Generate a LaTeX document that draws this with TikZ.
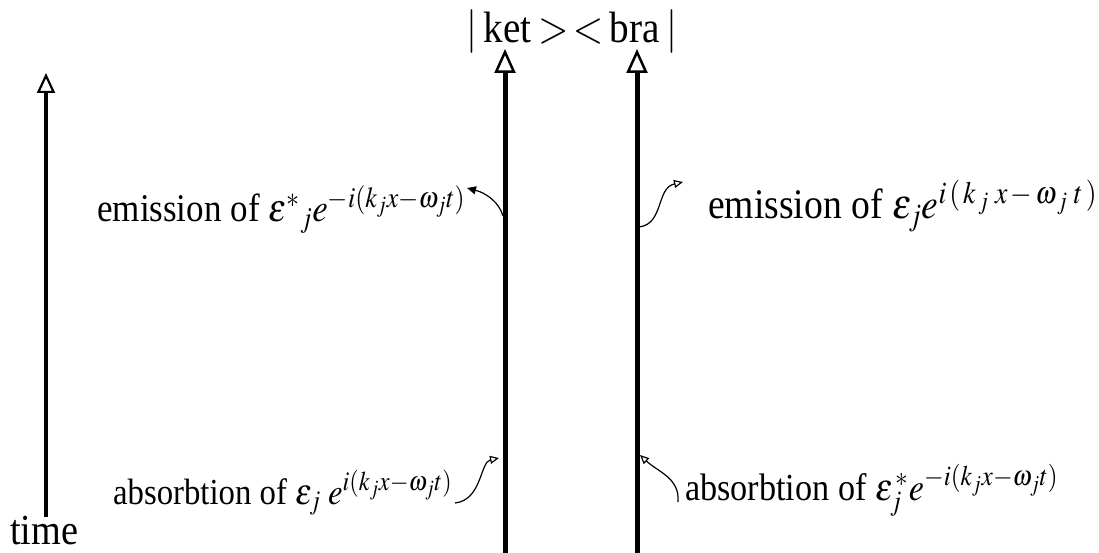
\documentclass[tikz,border=0pt]{standalone}
\usepackage{graphicx}
\usepackage{mathptmx}
\usepackage{fontspec}
\setmainfont{Liberation Serif}
\usetikzlibrary{arrows.meta}
\newcommand{\fitw}[2]{\scalebox{1}[1.12]{\resizebox{#1}{!}{#2}}}
\begin{document}
\begin{tikzpicture}[x=1pt,y=-1pt,
  worldline/.style={line width=5pt, -{Triangle[open,length=24pt,width=21pt,line width=2.5pt]}},
  timeline/.style={line width=3.5pt, -{Triangle[open,length=20pt,width=18pt,line width=2.2pt]}},
  wig/.style={line width=1.2pt, -{Triangle[open,length=9pt,width=8pt,line width=1.2pt]}},
  wigf/.style={line width=1.2pt, -{Triangle[length=9pt,width=8pt]}},
  lbl/.style={anchor=base west, inner sep=0pt, font=\fontsize{36}{40}\selectfont}]
\useasboundingbox (0,0) rectangle (1099,553);
% world lines
\coordinate (ketB) at (505,553);
\coordinate (ketT) at (505,49);
\coordinate (braB) at (637,553);
\coordinate (braT) at (637,49);
\coordinate (tB) at (46,517);
\coordinate (tT) at (46,73);
\draw[worldline] (ketB) -- (ketT);
\draw[worldline] (braB) -- (braT);
\draw[timeline] (tB) -- (tT);
% labels
\node[lbl] (top) at (466,43) {\fitw{211pt}{$|$\,ket\,$>\,<$\,bra\,$|$}};
\node[lbl] (time) at (10,544) {\fitw{68pt}{time}};
\node[lbl] (em1) at (97,222) {\fitw{368pt}{emission of $\varepsilon^{*}{}_{j}e^{-i(k_jx-\omega_jt)}$}};
\node[lbl] (em2) at (708,219) {\fitw{389pt}{emission of $\varepsilon_{j}e^{i\,(\,k_{\,j}\;x\,-\,\omega_{\,j}\;t\,)}$}};
\node[lbl] (ab1) at (113,504) {\fitw{339pt}{absorbtion of $\varepsilon_j\;e^{i(k_jx-\omega_jt)}$}};
\node[lbl] (ab2) at (685,500) {\fitw{373pt}{absorbtion of $\varepsilon_j^{\,*}e^{-i(k_jx-\omega_jt)}$}};
% wiggly arrows
\coordinate (k1) at (503,216);
\coordinate (e1) at (467,188);
\draw[wigf] (k1) .. controls (499,202) and (486,193) .. (e1);
\coordinate (b1) at (639,227);
\coordinate (e2) at (683,182);
\draw[wig] (b1) .. controls (664,224) and (656,188) .. (e2);
\coordinate (a1) at (455,503);
\coordinate (k2) at (499,458);
\draw[wig] (a1) .. controls (482,500) and (480,462) .. (k2);
\coordinate (a2) at (678,502);
\coordinate (b2) at (640,455);
\draw[wig] (a2) .. controls (680,478) and (658,472) .. (b2);
\end{tikzpicture}
\end{document}
